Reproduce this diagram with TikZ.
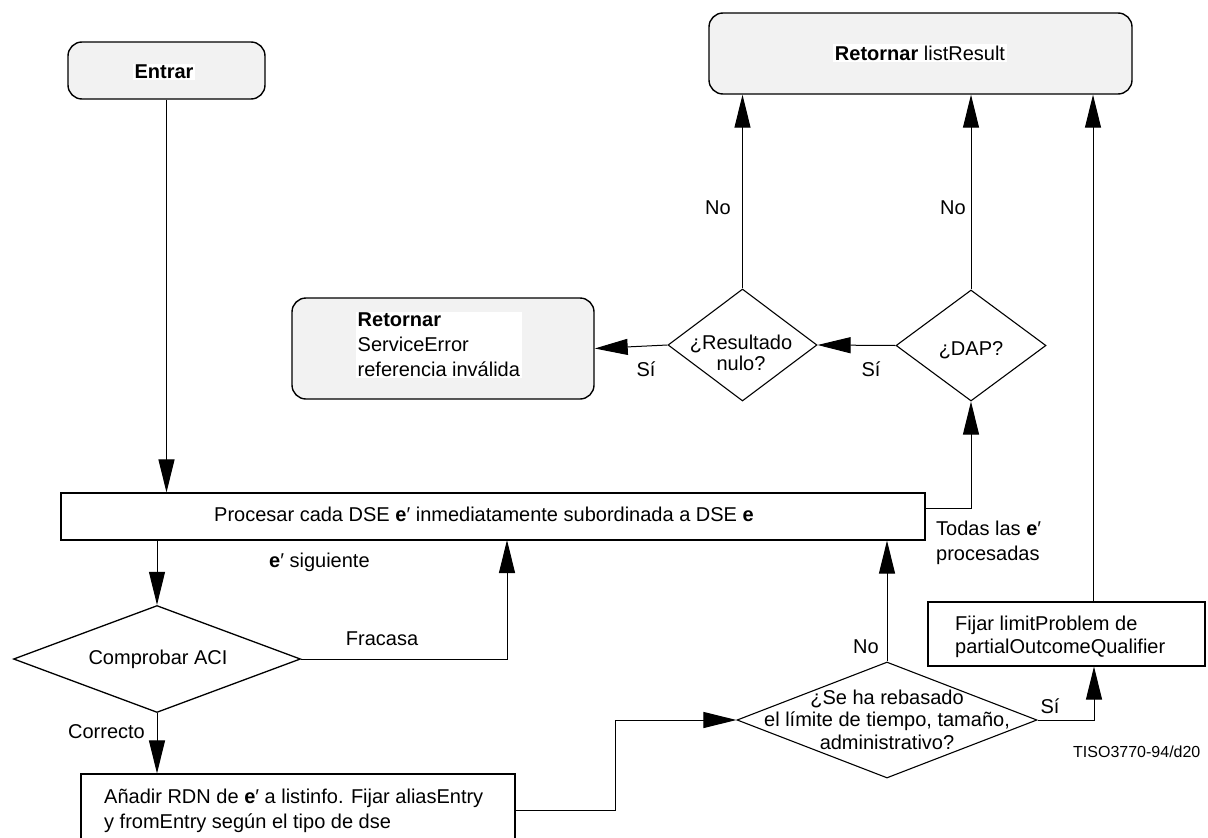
\documentclass[tikz,border=0pt]{standalone}
\usepackage{fontspec}
\setmainfont{Liberation Sans}
\usetikzlibrary{shapes.geometric,arrows.meta}
\definecolor{boxgray}{RGB}{242,242,242}
\begin{document}
\begin{tikzpicture}[x=1pt,y=-1pt,
  txt/.style={font=\fontsize{20}{24}\selectfont, inner sep=0pt},
  rbox/.style={draw, line width=1.4pt, fill=boxgray, rounded corners=14pt, inner sep=0pt},
  sbox/.style={draw, line width=1.1pt, fill=white, inner sep=0pt},
  dia/.style={draw, shape=diamond, inner sep=0pt, line width=1.1pt, fill=white},
  wlab/.style={txt, fill=white, inner sep=1.5pt},
  conn/.style={line width=1pt},
  arr/.style={line width=1pt, -{Triangle[length=33pt,width=16pt]}}
]
\useasboundingbox (0,0) rectangle (1208,838);

% boxes
\node[rbox, minimum width=197pt, minimum height=57pt] (entrar) at (166.5,70.5) {};
\node[wlab, font=\fontsize{20}{24}\selectfont\bfseries] (entrarT) at (164,72) {Entrar};

\node[rbox, minimum width=423pt, minimum height=81pt] (list) at (920.5,53.5) {};
\node[wlab] (listT) at (920,53) {\textbf{Retornar} listResult};

\node[rbox, minimum width=302pt, minimum height=101pt] (err) at (443,348.5) {};
\node[wlab, anchor=west, align=left, font=\fontsize{20}{25}\selectfont] (errT) at (356,345) {\textbf{Retornar}\\ServiceError\\referencia inválida};

\node[sbox, minimum width=864pt, minimum height=47pt] (proc) at (493,516.5) {};
\node[txt] (procT) at (484,514) {Procesar cada DSE \textbf{e}′ inmediatamente subordinada a DSE \textbf{e}};

\node[sbox, minimum width=277pt, minimum height=64pt] (fijar) at (1066.5,634) {};
\node[txt, anchor=west, align=left, font=\fontsize{20}{23}\selectfont] (fijarT) at (955,636.5) {Fijar limitProblem de\\partialOutcomeQualifier};

\node[sbox, minimum width=434pt, minimum height=72pt] (anad) at (298,810) {};
\node[txt, anchor=west, align=left, font=\fontsize{20}{25}\selectfont] (anadT) at (104,810.5) {Añadir RDN de \textbf{e}′ a listinfo. Fijar aliasEntry\\y fromEntry según el tipo de dse};

% diamonds
\node[dia, minimum width=287pt, minimum height=107pt, line width=1.3pt] (comp) at (157,659) {};
\node[txt] (compT) at (158,659) {Comprobar ACI};

\node[dia, minimum width=149pt, minimum height=112pt] (res) at (742.5,345) {};
\node[txt, align=center, font=\fontsize{20}{21}\selectfont] (resT) at (741,352.5) {¿Resultado\\nulo?};

\node[dia, minimum width=150pt, minimum height=111pt] (dap) at (971,345.5) {};
\node[txt] (dapT) at (971,350) {¿DAP?};

\node[dia, minimum width=300pt, minimum height=116pt] (lim) at (887,720) {};
\node[txt, align=center, font=\fontsize{20}{22.5}\selectfont] (limT) at (887,719.5) {¿Se ha rebasado\\el límite de tiempo, tamaño,\\administrativo?};

% helper coordinates
\coordinate (fr) at (507,540);
\coordinate (pr) at (925,508);
\coordinate (an) at (515,810);

% connectors
\draw[arr] (entrar.south) -- (entrar.south |- proc.north);
\draw[arr] (comp.north |- proc.south) -- (comp.north);
\draw[arr] (comp.east) -| (fr);
\draw[arr] (comp.south) -- (comp.south |- anad.north);
\draw[arr] (an) -- ++(100,0) |- (lim.west);
\draw[arr] (lim.north) -- (lim.north |- proc.south);
\draw[arr] (lim.east) -| ([xshift=27.5pt]fijar.south);
\draw[arr] ([xshift=26.5pt]fijar.north) -- ([xshift=26.5pt]fijar.north |- list.south);
\draw[arr] (pr) -| (dap.south);
\draw[arr] (dap.west) -- (res.east);
\draw[arr] (res.west) -- (err.east);
\draw[arr] (res.north) -- (res.north |- list.south);
\draw[arr] (dap.north) -- (dap.north |- list.south);

% labels
\node[txt] (l1) at (718,208) {No};
\node[txt] (l2) at (953,208) {No};
\node[txt] (l3) at (646,369) {Sí};
\node[txt] (l4) at (871,369) {Sí};
\node[txt] (l5) at (1050,706) {Sí};
\node[txt] (l6) at (866,647) {No};
\node[txt, anchor=west] (l7) at (269,562) {\textbf{e}′ siguiente};
\node[txt] (l8) at (382,639) {Fracasa};
\node[txt] (l9) at (106.5,732) {Correcto};
\node[txt, anchor=west, align=left, font=\fontsize{20}{25}\selectfont] (l10) at (936,542.5) {Todas las \textbf{e}′\\procesadas};
\node[txt, anchor=west, font=\fontsize{16}{19}\selectfont] (l11) at (1073,752) {TISO3770-94/d20};
\end{tikzpicture}
\end{document}
